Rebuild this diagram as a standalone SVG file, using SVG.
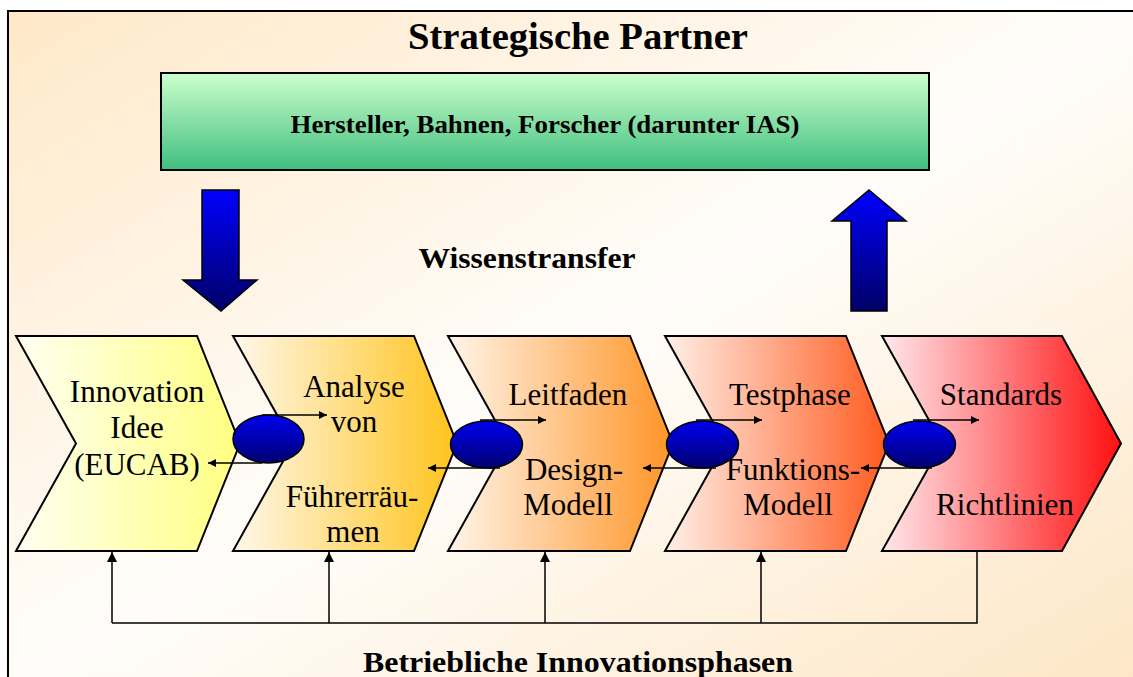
<svg xmlns="http://www.w3.org/2000/svg" width="1133" height="677" viewBox="0 0 1133 677">
<defs>
<linearGradient id="bg" x1="0" y1="0" x2="1" y2="1">
<stop offset="0" stop-color="#ffe8c8"/>
<stop offset="0.5" stop-color="#fffdfa"/>
<stop offset="1" stop-color="#fde6c4"/>
</linearGradient>
<linearGradient id="green" x1="0" y1="0" x2="0" y2="1">
<stop offset="0" stop-color="#ccffcc"/>
<stop offset="1" stop-color="#40bf7f"/>
</linearGradient>
<linearGradient id="blueDown" x1="0" y1="0" x2="0" y2="1">
<stop offset="0" stop-color="#0000ff"/>
<stop offset="1" stop-color="#000066"/>
</linearGradient>
<linearGradient id="blueOval" x1="0" y1="0" x2="0" y2="1">
<stop offset="0" stop-color="#0000f0"/>
<stop offset="1" stop-color="#000070"/>
</linearGradient>
<linearGradient id="c1" x1="0" y1="0" x2="1" y2="0">
<stop offset="0" stop-color="#fffff2"/>
<stop offset="1" stop-color="#ffff80"/>
</linearGradient>
<linearGradient id="c2" x1="0" y1="0" x2="1" y2="0">
<stop offset="0" stop-color="#fff8ec"/>
<stop offset="1" stop-color="#ffc31a"/>
</linearGradient>
<linearGradient id="c3" x1="0" y1="0" x2="1" y2="0">
<stop offset="0" stop-color="#fff5ea"/>
<stop offset="1" stop-color="#ff9426"/>
</linearGradient>
<linearGradient id="c4" x1="0" y1="0" x2="1" y2="0">
<stop offset="0" stop-color="#fff0e8"/>
<stop offset="1" stop-color="#ff5a1e"/>
</linearGradient>
<linearGradient id="c5" x1="0" y1="0" x2="1" y2="0">
<stop offset="0" stop-color="#ffe8ec"/>
<stop offset="1" stop-color="#ff0f0f"/>
</linearGradient>
<marker id="ah" viewBox="0 0 10 10" refX="10" refY="5" markerWidth="10" markerHeight="8" markerUnits="userSpaceOnUse" orient="auto">
<path d="M0,0 L10,5 L0,10 Z" fill="#000"/>
</marker>
<marker id="ahb" viewBox="0 0 10 10" refX="10" refY="5" markerWidth="16" markerHeight="10" markerUnits="userSpaceOnUse" orient="auto">
<path d="M0,0 L10,5 L0,10 Z" fill="#000"/>
</marker>
</defs>
<style>
.chev{stroke:#000;stroke-width:2;}
.oval{fill:url(#blueOval);stroke:#000;stroke-width:1.5;}
.big{stroke:#000;stroke-width:1.5;fill:url(#blueDown);}
.t{font-family:"Liberation Serif","Times New Roman",serif;font-size:31px;fill:#000;text-anchor:middle;}
.b{font-family:"Liberation Serif","Times New Roman",serif;font-weight:bold;fill:#000;text-anchor:middle;}
.ln{stroke:#000;stroke-width:1.5;fill:none;}
</style>
<rect x="0" y="0" width="1133" height="677" fill="#fff"/>
<rect x="8" y="11" width="1140" height="680" fill="url(#bg)" stroke="#000" stroke-width="2"/>

<text class="b" x="578" y="49" font-size="38" textLength="340" lengthAdjust="spacingAndGlyphs">Strategische Partner</text>

<g id="partner">
<rect x="161" y="73" width="768" height="97" fill="url(#green)" stroke="#000" stroke-width="2"/>
<text class="b" x="545" y="133" font-size="25" textLength="509" lengthAdjust="spacingAndGlyphs">Hersteller, Bahnen, Forscher (darunter IAS)</text>
</g>

<g id="arrow-down">
<path class="big" d="M202,190 L239,190 L239,280 L257,280 L221,311 L183,280 L202,280 Z"/>
</g>
<g id="arrow-up">
<path class="big" d="M869,190 L906,221 L887,221 L887,311 L851,311 L851,221 L832,221 Z"/>
</g>

<text class="b" x="527" y="268" font-size="30" textLength="217" lengthAdjust="spacingAndGlyphs">Wissenstransfer</text>

<g id="phase1">
<path class="chev" fill="url(#c1)" d="M16,336 L197,336 L240,443.5 L197,551 L16,551 L76,443.5 Z"/>
<text class="t" x="137" y="402">Innovation</text>
<text class="t" x="137" y="438">Idee</text>
<text class="t" x="137" y="475">(EUCAB)</text>
</g>
<g id="phase2">
<path class="chev" fill="url(#c2)" d="M233,336 L414,336 L457,443.5 L414,551 L233,551 L293,443.5 Z"/>
<text class="t" x="354" y="397">Analyse</text>
<text class="t" x="354" y="432">von</text>
<text class="t" x="352" y="507">Führerräu-</text>
<text class="t" x="353" y="542">men</text>
</g>
<g id="phase3">
<path class="chev" fill="url(#c3)" d="M448,336 L630,336 L673,443.5 L630,551 L448,551 L508,443.5 Z"/>
<text class="t" x="568" y="405">Leitfaden</text>
<text class="t" x="574" y="480">Design-</text>
<text class="t" x="568" y="515">Modell</text>
</g>
<g id="phase4">
<path class="chev" fill="url(#c4)" d="M665,336 L846,336 L889,443.5 L846,551 L665,551 L725,443.5 Z"/>
<text class="t" x="790" y="405">Testphase</text>
<text class="t" x="793" y="480">Funktions-</text>
<text class="t" x="788" y="515">Modell</text>
</g>
<g id="phase5">
<path class="chev" fill="url(#c5)" d="M882,336 L1062,336 L1121,443.5 L1062,551 L882,551 L942,443.5 Z"/>
<text class="t" x="1001" y="405">Standards</text>
<text class="t" x="1005" y="515">Richtlinien</text>
</g>

<g id="connectors">
<line class="ln" x1="262" y1="415" x2="327" y2="415" marker-end="url(#ah)"/>
<line class="ln" x1="262" y1="463" x2="208" y2="463" marker-end="url(#ah)"/>
<line class="ln" x1="480" y1="420" x2="546" y2="420" marker-end="url(#ah)"/>
<line class="ln" x1="500" y1="468" x2="428" y2="468" marker-end="url(#ah)"/>
<line class="ln" x1="696" y1="420" x2="762" y2="420" marker-end="url(#ah)"/>
<line class="ln" x1="716" y1="468" x2="643" y2="468" marker-end="url(#ah)"/>
<line class="ln" x1="913" y1="420" x2="979" y2="420" marker-end="url(#ah)"/>
<line class="ln" x1="932" y1="468" x2="861" y2="468" marker-end="url(#ah)"/>

<polyline class="ln" points="977,551 977,623 112,623"/>
<line class="ln" x1="112" y1="623" x2="112" y2="552" marker-end="url(#ahb)"/>
<line class="ln" x1="329" y1="623" x2="329" y2="552" marker-end="url(#ahb)"/>
<line class="ln" x1="545" y1="623" x2="545" y2="552" marker-end="url(#ahb)"/>
<line class="ln" x1="761" y1="623" x2="761" y2="552" marker-end="url(#ahb)"/>
</g>

<g id="ovals">
<ellipse id="oval1" class="oval" cx="268.5" cy="439" rx="35.5" ry="24"/>
<ellipse id="oval2" class="oval" cx="486.5" cy="444.5" rx="36" ry="23.5"/>
<ellipse id="oval3" class="oval" cx="702.5" cy="444.5" rx="36" ry="23.5"/>
<ellipse id="oval4" class="oval" cx="919.5" cy="444.5" rx="36" ry="23.5"/>
</g>

<text class="b" x="578" y="672" font-size="29" textLength="430" lengthAdjust="spacingAndGlyphs">Betriebliche Innovationsphasen</text>
</svg>
